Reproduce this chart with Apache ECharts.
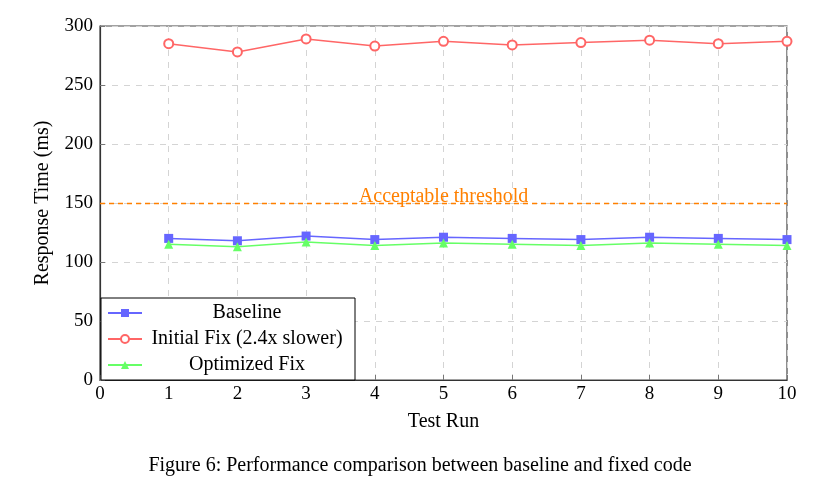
<!DOCTYPE html>
<html>
<head>
<meta charset="utf-8">
<script src="https://cdn.jsdelivr.net/npm/echarts@6/dist/echarts.min.js"></script>
<style>
html,body{margin:0;padding:0;background:#fff;}
#chart{width:827px;height:487px;}
</style>
</head>
<body>
<div id="chart"></div>
<script>
const runs = [1,2,3,4,5,6,7,8,9,10];
const baseline = [120,118,122,119,121,120,119,121,120,119];
const initialFix = [285,278,289,283,287,284,286,288,285,287];
const optimizedFix = [115,113,117,114,116,115,114,116,115,114];
const threshold = 150;

const FONT = 'Liberation Serif';
const TXT = 20;
const NUM = 19;
const pair = arr => runs.map((r,i)=>[r,arr[i]]);

const chart = echarts.init(document.getElementById('chart'));
chart.setOption({
  animation:false,
  backgroundColor:'#fff',
  textStyle:{fontFamily:FONT},
  title:{
    text:'Figure 6: Performance comparison between baseline and fixed code',
    left:415, textAlign:'center', top:451,
    textStyle:{fontFamily:FONT,fontSize:TXT,fontWeight:'normal',color:'#000'}
  },
  grid:{left:100,right:40,top:26,bottom:107,show:true,borderColor:'#444',borderWidth:1.2,backgroundColor:'transparent'},
  xAxis:{
    type:'value',min:0,max:10,interval:1,
    name:'Test Run',nameLocation:'middle',nameGap:32,
    nameTextStyle:{fontFamily:FONT,fontSize:TXT,color:'#000'},
    axisLine:{show:true,lineStyle:{color:'#333',width:1.2}},
    axisTick:{show:true,inside:true,length:5,lineStyle:{color:'#777'}},
    axisLabel:{fontFamily:FONT,fontSize:NUM,color:'#000',margin:5},
    splitLine:{show:true,lineStyle:{color:'#d4d4d4',type:[6,6]}}
  },
  yAxis:{
    type:'value',min:0,max:300,interval:50,
    name:'Response Time (ms)',nameLocation:'middle',nameGap:47,
    nameTextStyle:{fontFamily:FONT,fontSize:TXT,color:'#000'},
    axisLine:{show:true,lineStyle:{color:'#333',width:1.2}},
    axisTick:{show:true,inside:true,length:5,lineStyle:{color:'#777'}},
    axisLabel:{fontFamily:FONT,fontSize:NUM,color:'#000',margin:7},
    splitLine:{show:true,lineStyle:{color:'#d4d4d4',type:[6,6]}}
  },
  legend:{
    orient:'vertical',left:101,top:298,
    backgroundColor:'#fff',borderColor:'#000',borderWidth:1,
    padding:[5,8,5,6],itemGap:6,itemWidth:34,itemHeight:10,
    formatter: n => '{a|' + n + '}',
    textStyle:{rich:{a:{fontFamily:FONT,fontSize:TXT,color:'#000',width:200,lineHeight:22,align:'center'}}}
  },
  series:[
    {name:'Baseline',type:'line',data:pair(baseline),
     symbol:'rect',symbolSize:9,
     lineStyle:{color:'#6666ff',width:1.5},itemStyle:{color:'#6666ff'}},
    {name:'Initial Fix (2.4x slower)',type:'line',data:pair(initialFix),
     symbol:'emptyCircle',symbolSize:9,
     lineStyle:{color:'#ff6666',width:1.5},itemStyle:{color:'#ff6666',borderColor:'#ff6666',borderWidth:1.2}},
    {name:'Optimized Fix',type:'line',data:pair(optimizedFix),
     symbol:'triangle',symbolSize:9,
     lineStyle:{color:'#66ff66',width:1.5},itemStyle:{color:'#66ff66'},
     markLine:{
       silent:true,symbol:'none',
       data:[{yAxis:threshold}],
       lineStyle:{color:'#ff8000',type:[5,4],width:1.3},
       label:{show:true,formatter:'Acceptable threshold',position:'insideMiddleTop',
              fontFamily:FONT,fontSize:TXT,color:'#ff8000',distance:-4}
     }}
  ]
});
</script>
</body>
</html>
